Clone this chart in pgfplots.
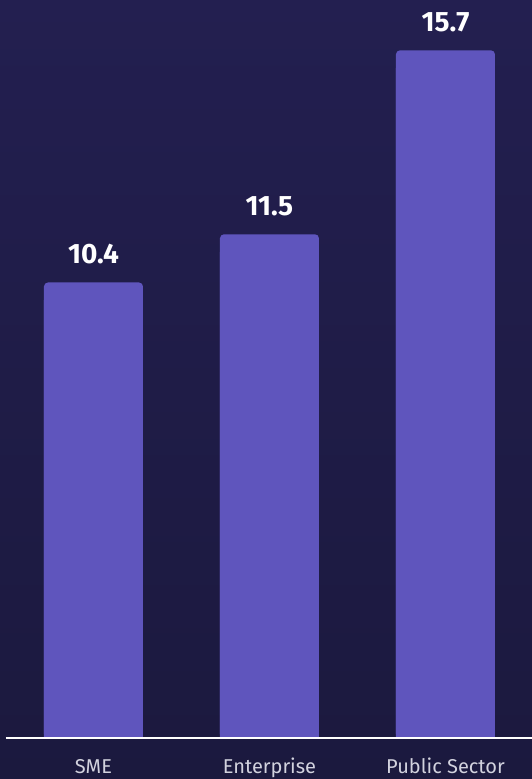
\documentclass[border=0pt]{standalone}
\usepackage{pgfplots}
\pgfplotsset{compat=1.18}
\usepackage{fontspec}
\setmainfont{Fira Sans}
\definecolor{bgtop}{HTML}{231F50}
\definecolor{bgbot}{HTML}{1B193E}
\definecolor{barc}{HTML}{5F55BD}
\definecolor{lab}{HTML}{D2D2DE}
\begin{document}
\begin{tikzpicture}[x=1pt,y=1pt]
\useasboundingbox (0,0) rectangle (532,779);
\shade[top color=bgtop,bottom color=bgbot] (0,0) rectangle (532,779);
\begin{axis}[
  at={(6pt,41pt)}, anchor=south west,
  x=176pt, y=43.8pt,
  xmin=-0.497, xmax=2.4915,
  ymin=0, ymax=17.0,
  axis x line*=bottom, axis y line=none,
  x axis line style={white, line width=2pt, -},
  xtick={0,1,2},
  xticklabels={SME,Enterprise,Public Sector},
  major tick length=0pt,
  xticklabel style={anchor=base, yshift=-35pt, font=\fontsize{20}{23}\selectfont, text=lab},
  /pgf/number format/assume math mode=true,
  clip=false,
]
\addplot[ybar, bar width=99pt, bar shift=0pt, fill=barc, draw=none, rounded corners=4pt,
  nodes near coords={\pgfmathprintnumber[fixed,fixed zerofill,precision=1]{\pgfplotspointmeta}},
  nodes near coords style={anchor=base, yshift=19pt, text=white, font=\fontsize{28}{32}\selectfont\bfseries}]
  coordinates {(0,10.4) (1,11.5) (2,15.7)};
\addplot[ybar, bar width=99pt, bar shift=0pt, fill=barc, draw=none]
  coordinates {(0,10.0) (1,11.1) (2,15.3)};
\draw[white, line width=2pt] (axis cs:-0.497,0) -- (axis cs:2.4915,0);
\end{axis}
\end{tikzpicture}
\end{document}
